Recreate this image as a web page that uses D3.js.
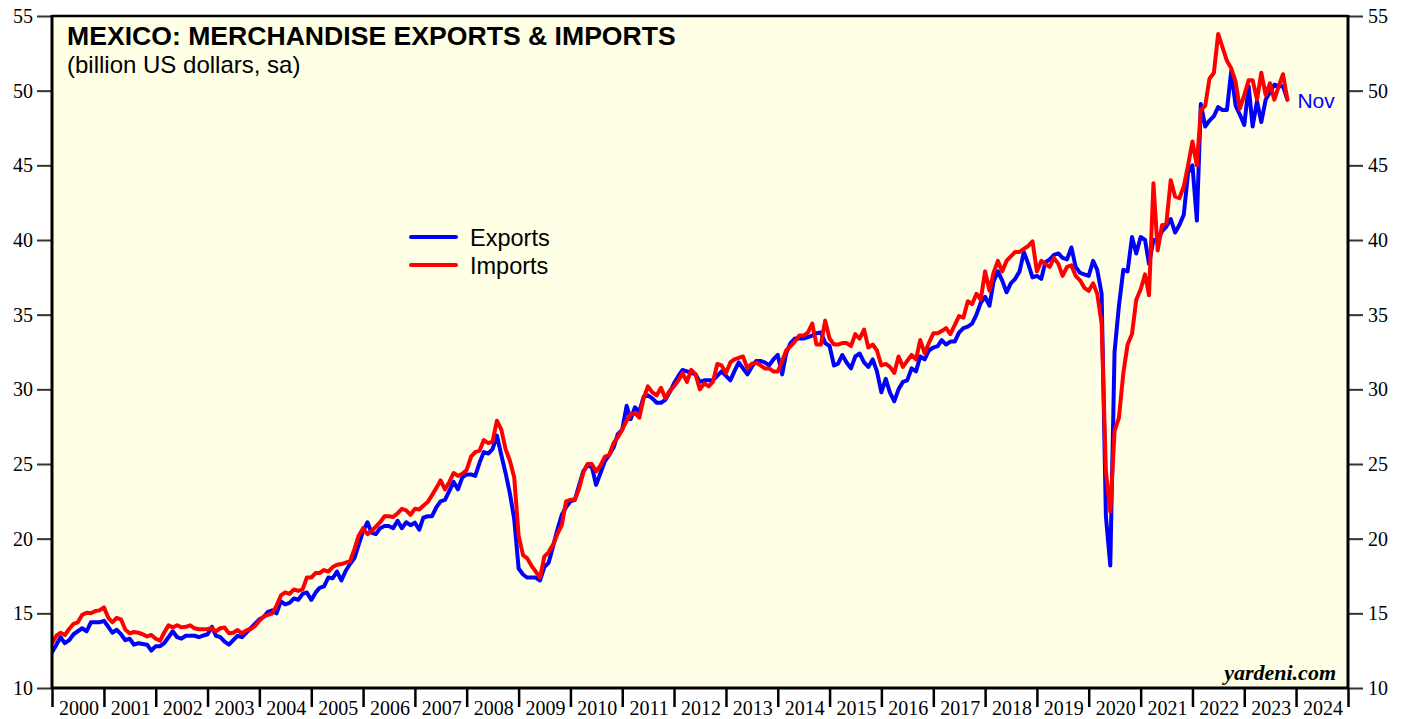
<!DOCTYPE html>
<html>
<head>
<meta charset="utf-8">
<title>Mexico: Merchandise Exports & Imports</title>
<script src="https://cdn.jsdelivr.net/npm/d3@7"></script>
<style>
  body { margin: 0; background: #fff; }
  .serif { font-family: "Liberation Serif", "Times New Roman", serif; }
  .sans { font-family: "Liberation Sans", Arial, sans-serif; }
  .axis path { display: none; }
  .axis line { stroke: #333; stroke-width: 2; }
  .axis text { font-family: "Liberation Serif", "Times New Roman", serif; font-size: 20px; fill: #000; }
</style>
</head>
<body>
<div id="chart"></div>
<script>
  // monthly data, Jan 2000 .. Nov 2023 (billion US dollars, sa), one row per year
  var startYear = 2000;
  var exportsData = [
    12.4, 12.9, 13.4, 13.0, 13.2, 13.6, 13.8, 14.0, 13.8, 14.4, 14.4, 14.4,
    14.5, 14.1, 13.7, 13.9, 13.6, 13.2, 13.3, 12.9, 13.0, 12.95, 12.9, 12.5,
    12.8, 12.8, 13.0, 13.4, 13.8, 13.4, 13.3, 13.5, 13.5, 13.5, 13.4, 13.5,
    13.6, 14.1, 13.5, 13.4, 13.1, 12.9, 13.2, 13.5, 13.4, 13.7, 14.0, 14.3,
    14.6, 14.75, 15.1, 15.2, 15.0, 15.8, 15.6, 15.7, 16.0, 15.9, 16.3, 16.4,
    15.9, 16.4, 16.7, 16.8, 17.4, 17.35, 17.8, 17.2, 17.85, 18.3, 18.7, 19.6,
    20.5, 21.1, 20.4, 20.3, 20.7, 20.85, 20.85, 20.7, 21.2, 20.7, 21.1, 20.9,
    21.07, 20.6, 21.4, 21.5, 21.5, 22.1, 22.5, 22.6, 23.2, 23.8, 23.3, 24.1,
    24.3, 24.3, 24.2, 25.1, 25.8, 25.7, 26.0, 26.9, 25.6, 24.4, 23.0, 21.3,
    18.0, 17.6, 17.4, 17.4, 17.4, 17.2, 18.1, 18.4, 19.5, 20.6, 21.6, 22.1,
    22.5, 22.6, 23.5, 24.5, 24.9, 24.8, 23.6, 24.4, 25.2, 25.6, 26.1, 27.0,
    27.3, 28.9, 28.0, 28.8, 28.5, 29.5, 29.6, 29.4, 29.1, 29.1, 29.3, 29.8,
    30.4, 30.9, 31.3, 31.2, 31.1, 31.0, 30.5, 30.6, 30.6, 30.6, 30.9, 31.2,
    30.9, 30.6, 31.2, 31.8, 31.4, 31.0, 31.5, 31.9, 31.9, 31.8, 31.6, 32.0,
    32.3, 31.0, 32.4, 33.1, 33.4, 33.4, 33.4, 33.5, 33.6, 33.75, 33.8, 33.1,
    32.9, 31.6, 31.7, 32.3, 31.8, 31.4, 32.2, 32.4, 31.8, 31.5, 32.0, 31.2,
    29.8, 30.7, 29.8, 29.2, 30.0, 30.5, 30.6, 31.4, 31.2, 32.2, 32.0, 32.6,
    32.8, 32.9, 33.3, 33.0, 33.2, 33.2, 33.8, 34.1, 34.2, 34.4, 35.0, 35.8,
    36.2, 35.6, 37.2, 37.9, 37.3, 36.5, 37.1, 37.4, 37.9, 39.2, 38.4, 37.5,
    37.6, 37.4, 38.5, 38.7, 39.0, 39.1, 38.8, 38.7, 39.5, 38.2, 37.8, 37.7,
    37.6, 38.6, 38.0, 36.4, 21.5, 18.2, 32.5, 35.6, 38.0, 37.9, 40.2, 39.1,
    40.2, 40.0, 38.4, 40.0, 40.0, 40.6, 40.9, 41.4, 40.5, 41.0, 41.7, 44.5,
    45.0, 41.3, 49.1, 47.6, 48.0, 48.3, 48.9, 48.7, 48.7, 51.3, 49.0, 48.4,
    47.7, 50.3, 47.6, 49.3, 47.9, 49.4, 49.9, 50.4, 50.3, 50.3, 49.4
  ];
  var importsData = [
    13.0, 13.5, 13.7, 13.55, 13.95, 14.3, 14.4, 14.9, 15.04, 15.0, 15.15, 15.2,
    15.4, 14.7, 14.4, 14.7, 14.6, 13.9, 13.66, 13.75, 13.7, 13.6, 13.45, 13.55,
    13.3, 13.17, 13.7, 14.2, 14.06, 14.2, 14.06, 14.1, 14.2, 14.0, 13.93, 13.93,
    13.95, 14.0, 13.8, 14.0, 14.05, 13.66, 13.7, 13.88, 13.66, 13.85, 13.95, 14.15,
    14.5, 14.8, 14.9, 15.0, 15.5, 16.2, 16.4, 16.3, 16.6, 16.5, 16.6, 17.4,
    17.4, 17.7, 17.7, 17.9, 17.8, 18.1, 18.25, 18.3, 18.4, 18.5, 19.3, 20.2,
    20.7, 20.3, 20.5, 20.8, 21.1, 21.5, 21.5, 21.45, 21.7, 22.0, 21.9, 21.6,
    22.0, 21.95, 22.2, 22.45, 22.9, 23.4, 23.9, 23.3, 23.8, 24.4, 24.2, 24.35,
    24.6, 25.5, 25.8, 25.9, 26.6, 26.4, 26.5, 27.9, 27.3, 26.0, 25.2, 24.1,
    20.2, 18.9, 18.7, 18.2, 17.8, 17.4, 18.8, 19.1, 19.6, 20.3, 20.9, 22.5,
    22.6, 22.6, 23.3, 24.4, 25.0, 25.0, 24.5, 24.9, 25.5, 25.6, 26.4, 26.8,
    27.3, 27.9, 28.3, 28.4, 28.1, 29.4, 30.2, 29.8, 29.6, 30.1, 29.4, 29.9,
    30.2, 30.6, 31.1, 30.5, 31.3, 31.0, 30.0, 30.4, 30.2, 30.5, 31.7, 31.6,
    31.1, 31.8, 32.0, 32.1, 32.2, 31.4, 31.7, 31.8, 31.6, 31.4, 31.4, 31.2,
    31.2, 31.9, 32.6, 32.9, 33.2, 33.6, 33.6, 33.8, 34.4, 33.0, 33.0, 34.6,
    33.4, 33.0, 33.0, 33.1, 33.1, 32.9, 33.7, 33.4, 34.0, 32.8, 33.0, 32.6,
    31.6, 31.7, 31.5, 31.1, 32.2, 31.5, 31.9, 32.3, 32.0, 33.3, 32.4, 33.1,
    33.75, 33.75, 33.9, 34.1, 33.7, 34.3, 34.9, 34.8, 35.9, 35.7, 36.4, 36.0,
    37.9, 36.6, 37.8, 38.6, 37.9, 38.6, 38.9, 39.2, 39.2, 39.4, 39.6, 39.9,
    37.9, 38.6, 38.4, 38.2, 38.8, 38.4, 37.6, 38.2, 38.3, 37.6, 37.3, 36.8,
    36.6, 37.1, 36.4, 34.4, 24.5, 21.8, 27.2, 28.1, 31.1, 33.0, 33.7, 36.0,
    36.7, 37.7, 36.3, 43.8, 39.3, 41.0, 41.1, 44.0, 42.9, 42.8, 43.6, 45.0,
    46.6, 45.0, 48.7, 49.0, 50.8, 51.2, 53.8, 52.9, 52.0, 51.5, 50.6, 48.8,
    49.7, 50.7, 50.7, 49.4, 51.2, 49.7, 50.5, 49.4, 50.3, 51.1, 49.4
  ];
  var yTicks = [10, 15, 20, 25, 30, 35, 40, 45, 50, 55];
  var yearLabels = d3.range(2000, 2025);
  var seriesNames = ["Exports", "Imports"];
  var seriesColors = ["#0000ff", "#ff0000"];

  var width = 1408, height = 719;
  var plot = { left: 52, right: 1348, top: 16, bottom: 688 };

  var svg = d3.select("#chart").append("svg")
      .attr("width", width)
      .attr("height", height);

  var x = d3.scaleTime()
      .domain([new Date(2000, 0, 1), new Date(2025, 0, 1)])
      .range([plot.left, plot.right]);
  var y = d3.scaleLinear()
      .domain([10, 55])
      .range([plot.bottom, plot.top]);

  function toPoints(values) {
    return values.map(function (v, i) {
      return { date: new Date(startYear, i, 1), value: v };
    });
  }
  var series = [toPoints(exportsData), toPoints(importsData)];

  // plot background
  svg.append("rect")
      .attr("x", plot.left).attr("y", plot.top)
      .attr("width", plot.right - plot.left)
      .attr("height", plot.bottom - plot.top)
      .attr("fill", "#ffffe5");

  // y axes
  svg.append("g").attr("class", "axis")
      .attr("transform", "translate(" + (plot.left - 1) + ",0)")
      .call(d3.axisLeft(y).tickValues(yTicks).tickSize(14).tickPadding(4));
  svg.append("g").attr("class", "axis")
      .attr("transform", "translate(" + (plot.right + 1) + ",0)")
      .call(d3.axisRight(y).tickValues(yTicks).tickSize(14).tickPadding(5));

  // x axis: year boundary ticks, labels centred in each year
  svg.append("g").attr("class", "axis")
      .attr("transform", "translate(0," + (plot.bottom + 1) + ")")
      .call(d3.axisBottom(x).ticks(d3.timeYear.every(1)).tickSize(18).tickFormat(""))
      .selectAll("line").style("stroke", "#000").style("stroke-width", 2.5);

  svg.append("g").selectAll("text")
      .data(yearLabels)
      .enter().append("text")
      .attr("class", "serif")
      .attr("x", function (d) { return (x(new Date(d, 0, 1)) + x(new Date(d + 1, 0, 1))) / 2 + 1; })
      .attr("y", 715)
      .attr("text-anchor", "middle")
      .attr("font-size", 20)
      .text(function (d) { return d; });

  // data lines
  svg.append("clipPath").attr("id", "plot-clip")
      .append("rect")
      .attr("x", plot.left).attr("y", plot.top)
      .attr("width", plot.right - plot.left)
      .attr("height", plot.bottom - plot.top);

  var line = d3.line()
      .x(function (d) { return x(d.date); })
      .y(function (d) { return y(d.value); });

  svg.append("g").attr("clip-path", "url(#plot-clip)")
      .selectAll("path")
      .data(series)
      .enter().append("path")
      .attr("d", line)
      .attr("fill", "none")
      .attr("stroke", function (d, i) { return seriesColors[i]; })
      .attr("stroke-width", 4)
      .attr("stroke-linejoin", "round")
      .attr("stroke-linecap", "round");

  // frame
  svg.append("line").attr("x1", plot.left).attr("x2", plot.right)
      .attr("y1", plot.top).attr("y2", plot.top)
      .attr("stroke", "#000").attr("stroke-width", 2.5);
  svg.append("line").attr("x1", plot.left).attr("x2", plot.right)
      .attr("y1", plot.bottom).attr("y2", plot.bottom)
      .attr("stroke", "#000").attr("stroke-width", 3);
  svg.append("line").attr("x1", plot.left).attr("x2", plot.left)
      .attr("y1", plot.top - 1).attr("y2", plot.bottom + 1)
      .attr("stroke", "#000").attr("stroke-width", 3);
  svg.append("line").attr("x1", plot.right).attr("x2", plot.right)
      .attr("y1", plot.top - 1).attr("y2", plot.bottom + 1)
      .attr("stroke", "#000").attr("stroke-width", 3);

  // titles
  svg.append("text").attr("class", "sans")
      .attr("x", 67).attr("y", 45)
      .attr("font-size", 26.6).attr("font-weight", "bold")
      .text("MEXICO: MERCHANDISE EXPORTS & IMPORTS");
  svg.append("text").attr("class", "sans")
      .attr("x", 67).attr("y", 73)
      .attr("font-size", 24)
      .text("(billion US dollars, sa)");

  // legend
  var legend = svg.append("g").attr("transform", "translate(411,237)");
  seriesNames.forEach(function (name, i) {
    legend.append("line")
        .attr("x1", 0).attr("x2", 45)
        .attr("y1", i * 28).attr("y2", i * 28)
        .attr("stroke", seriesColors[i]).attr("stroke-width", 4)
        .attr("stroke-linecap", "round");
    legend.append("text").attr("class", "sans")
        .attr("x", 59).attr("y", i * 28 + 9)
        .attr("font-size", 23.5)
        .text(name);
  });

  // last month label
  var last = series[0][series[0].length - 1];
  svg.append("text").attr("class", "sans")
      .attr("x", x(last.date) + 10)
      .attr("y", y(last.value) + 8)
      .attr("font-size", 21)
      .attr("fill", "#0000ff")
      .text("Nov");

  svg.append("text").attr("class", "serif")
      .attr("x", 1336).attr("y", 680)
      .attr("text-anchor", "end")
      .attr("font-size", 22).attr("font-weight", "bold").attr("font-style", "italic")
      .text("yardeni.com");
</script>
</body>
</html>
